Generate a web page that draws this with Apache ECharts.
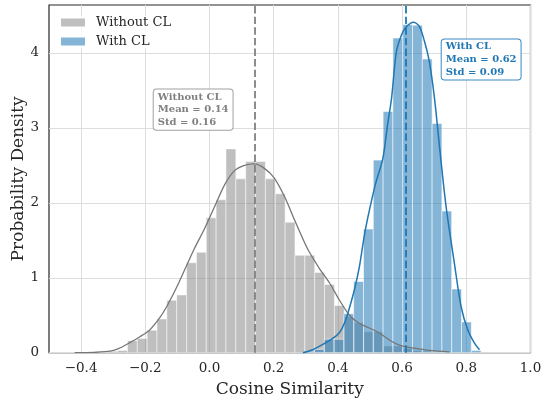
<!DOCTYPE html>
<html>
<head>
<meta charset="utf-8">
<style>
  html, body { margin: 0; padding: 0; background: #fff; }
  #main { width: 541px; height: 402px; }
</style>
<script src="https://cdn.jsdelivr.net/npm/echarts@6/dist/echarts.min.js"></script>
</head>
<body>
<div id="main"></div>
<script>
// tick labels
const xTicks = [-0.4, -0.2, 0.0, 0.2, 0.4, 0.6, 0.8, 1.0]
const yTicks = [0, 1, 2, 3, 4]

const names = ['Without CL', 'With CL']
const meanLabels = ['0.14', '0.62']
const stdLabels = ['0.16', '0.09']
const means = [0.143, 0.615]

// histogram bins (density)
const grayBinStart = -0.317
const grayBinWidth = 0.0307
const grayHeights = [0.02, 0.03, 0.16, 0.19, 0.30, 0.45, 0.70, 0.77, 1.20, 1.34,
  1.80, 2.04, 2.72, 2.32, 2.55, 2.55, 2.32, 2.12, 1.74, 1.30,
  1.30, 1.07, 0.91, 0.63, 0.48, 0.40, 0.28, 0.28, 0.09, 0.09,
  0.06, 0.03, 0.02, 0.01, 0.01]

const blueBinStart = 0.2966
const blueBinWidth = 0.03053
const blueHeights = [0.02, 0.045, 0.18, 0.18, 0.52, 0.95, 1.65, 2.57, 3.22, 4.20,
  4.38, 4.37, 3.92, 3.06, 1.89, 0.85, 0.41, 0.03]

// kde curves
const grayKdeX = [-0.42, -0.36, -0.31, -0.28, -0.25, -0.218, -0.187, -0.156, -0.134, -0.105,
  -0.078, -0.047, -0.016, 0.016, 0.047, 0.078, 0.109, 0.14, 0.171, 0.202,
  0.234, 0.265, 0.296, 0.31, 0.343, 0.374, 0.405, 0.436, 0.467, 0.498,
  0.53, 0.56, 0.592, 0.623, 0.654, 0.685, 0.748]
const grayKdeY = [0, 0.005, 0.02, 0.06, 0.13, 0.21, 0.30, 0.46, 0.61, 0.85,
  1.10, 1.39, 1.65, 1.95, 2.24, 2.43, 2.50, 2.52, 2.46, 2.33,
  2.08, 1.77, 1.47, 1.35, 1.12, 0.93, 0.70, 0.50, 0.39, 0.33,
  0.26, 0.17, 0.10, 0.07, 0.05, 0.03, 0.01]

const blueKdeX = [0.291, 0.322, 0.353, 0.384, 0.405, 0.421, 0.436, 0.452, 0.467, 0.478,
  0.486, 0.498, 0.517, 0.540, 0.555, 0.567, 0.582, 0.598, 0.613, 0.636,
  0.654, 0.670, 0.685, 0.701, 0.717, 0.737, 0.763, 0.784, 0.805, 0.826, 0.841]
const blueKdeY = [0, 0.04, 0.11, 0.19, 0.27, 0.40, 0.60, 0.85, 1.15, 1.45,
  1.65, 1.90, 2.25, 2.59, 3.05, 3.39, 4.01, 4.24, 4.35, 4.41,
  4.35, 4.15, 3.88, 3.39, 2.73, 1.95, 1.19, 0.61, 0.30, 0.125, 0.04]

function bins(start, width, heights) {
  return heights.map((h, i) => [start + i * width, start + (i + 1) * width, h])
}

function histRender(color, alpha) {
  return function (params, api) {
    const p0 = api.coord([api.value(0), api.value(2)])
    const p1 = api.coord([api.value(1), 0])
    return {
      type: 'rect',
      shape: { x: p0[0], y: p0[1], width: p1[0] - p0[0], height: p1[1] - p0[1] },
      style: { fill: color, stroke: '#fff', lineWidth: 1, opacity: alpha }
    }
  }
}

const serif = '"DejaVu Serif", serif'
const fmt = v => (v < 0 ? '\u2212' : '') + Math.abs(v).toFixed(1)

const myChart = echarts.init(document.getElementById('main'))
myChart.setOption({
  animation: false,
  grid: {
    left: 49, right: 10.5, top: 5, bottom: 49.3,
    outerBoundsMode: 'none',
    show: true, borderColor: '#262626', borderWidth: 1.2
  },
  legend: {
    orient: 'vertical',
    left: 61, top: 16, padding: 0,
    itemWidth: 24, itemHeight: 8, itemGap: 6,
    icon: 'rect',
    backgroundColor: 'rgba(255,255,255,0.8)',
    textStyle: { fontFamily: serif, fontSize: 13, color: '#262626', lineHeight: 13, padding: [0, 0, 0, 6] },
    data: [
      { name: names[0], itemStyle: { color: '#bfbfbf' } },
      { name: names[1], itemStyle: { color: '#84b4d6' } }
    ]
  },
  xAxis: {
    type: 'value', min: -0.5, max: 1.0,
    name: 'Cosine Similarity', nameLocation: 'middle', nameGap: 28, nameMoveOverlap: false,
    nameTextStyle: { fontFamily: serif, fontSize: 17, color: '#262626' },
    axisLine: { show: false },
    axisTick: { show: false, customValues: xTicks },
    axisLabel: { customValues: xTicks, formatter: fmt, fontFamily: serif, fontSize: 13.5, color: '#262626', margin: 9 },
    splitLine: { show: true, lineStyle: { color: '#dddddd', width: 1 } }
  },
  yAxis: {
    type: 'value', min: 0, max: 4.64,
    name: 'Probability Density', nameLocation: 'middle', nameGap: 22, nameMoveOverlap: false,
    nameTextStyle: { fontFamily: serif, fontSize: 17, color: '#262626' },
    axisLine: { show: false },
    axisTick: { show: false, customValues: yTicks },
    axisLabel: { customValues: yTicks, fontFamily: serif, fontSize: 13.5, color: '#262626', margin: 10 },
    splitLine: { show: true, lineStyle: { color: '#dddddd', width: 1 } }
  },
  series: [
    {
      name: names[0], type: 'custom', z: 2, clip: true,
      itemStyle: { color: '#bfbfbf' },
      encode: { x: [0, 1], y: 2 },
      renderItem: histRender('#808080', 0.5),
      data: bins(grayBinStart, grayBinWidth, grayHeights)
    },
    {
      name: names[1], type: 'custom', z: 3, clip: true,
      itemStyle: { color: '#84b4d6' },
      encode: { x: [0, 1], y: 2 },
      renderItem: histRender('#1f77b4', 0.55),
      data: bins(blueBinStart, blueBinWidth, blueHeights)
    },
    {
      name: names[0] + ' kde', type: 'line', z: 4, smooth: 0.3, symbol: 'none',
      lineStyle: { color: '#777777', width: 1.3 },
      data: grayKdeX.map((x, i) => [x, grayKdeY[i]]),
      markLine: {
        silent: true, symbol: ['none', 'none'], label: { show: false },
        lineStyle: { color: '#808080', width: 2, type: [7.4, 3.2], opacity: 0.9 },
        data: [{ xAxis: means[0] }]
      }
    },
    {
      name: names[1] + ' kde', type: 'line', z: 5, smooth: 0.3, symbol: 'none',
      lineStyle: { color: '#1f77b4', width: 1.5 },
      data: blueKdeX.map((x, i) => [x, blueKdeY[i]]),
      markLine: {
        silent: true, symbol: ['none', 'none'], label: { show: false },
        lineStyle: { color: '#1f77b4', width: 2, type: [7.4, 3.2], opacity: 0.9 },
        data: [{ xAxis: means[1] }]
      }
    }
  ],
  graphic: [
    {
      type: 'text', left: 152.7, top: 88.6, z: 100,
      style: {
        text: names[0] + '\nMean = ' + meanLabels[0] + '\nStd = ' + stdLabels[0],
        fontFamily: serif, fontWeight: 'bold', fontSize: 10, lineHeight: 12.7,
        fill: '#808080', backgroundColor: '#fff', borderColor: '#a0a0a0',
        borderWidth: 1, borderRadius: 3, padding: [1, 4, 1, 4]
      }
    },
    {
      type: 'text', left: 440.7, top: 38.5, z: 100,
      style: {
        text: names[1] + '\nMean = ' + meanLabels[1] + '\nStd = ' + stdLabels[1],
        fontFamily: serif, fontWeight: 'bold', fontSize: 10, lineHeight: 12.7,
        fill: '#1f77b4', backgroundColor: '#fff', borderColor: '#3a88c0',
        borderWidth: 1, borderRadius: 3, padding: [1, 4, 1, 4]
      }
    }
  ]
})
</script>
</body>
</html>
